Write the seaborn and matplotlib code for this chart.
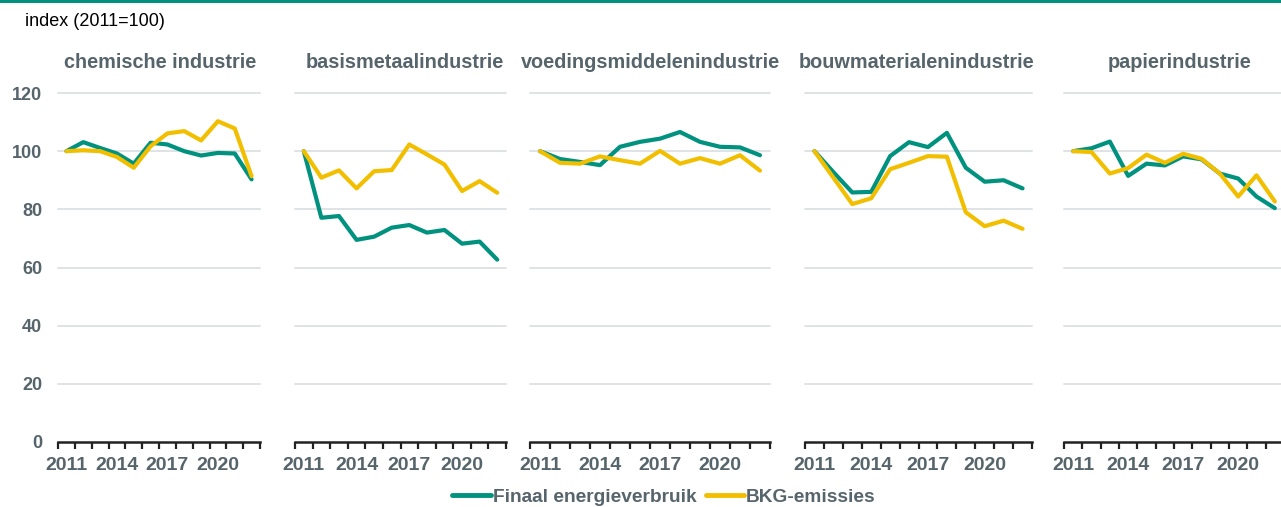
import matplotlib
matplotlib.use("Agg")
import matplotlib.pyplot as plt
from matplotlib.ticker import FixedLocator
import seaborn as sns
import pandas as pd

###############################################################################
# Data (index 2011=100)
###############################################################################

years = list(range(2011, 2023))
sectors = ["chemische industrie", "basismetaalindustrie", "voedingsmiddelenindustrie",
           "bouwmaterialenindustrie", "papierindustrie"]
series_names = ["Finaal energieverbruik", "BKG-emissies"]

chem_energy = [100, 103.1, 101.1, 99.2, 95.7, 102.9, 102.3, 100, 98.5, 99.4, 99.2, 90.3]
chem_ghg = [100, 100.3, 100, 98, 94.3, 101.7, 106.1, 106.9, 103.7, 110.3, 107.8, 91.4]

metal_energy = [100, 77.1, 77.7, 69.5, 70.6, 73.7, 74.6, 72, 72.9, 68.2, 68.9, 62.7]
metal_ghg = [100, 90.9, 93.4, 87.2, 93.1, 93.5, 102.3, 98.9, 95.4, 86.3, 89.7, 85.7]

food_energy = [100, 97.3, 96.3, 95.2, 101.5, 103.2, 104.3, 106.6, 103.2, 101.5, 101.3, 98.6]
food_ghg = [100, 96, 95.7, 98.2, 96.9, 95.7, 100.1, 95.7, 97.6, 95.7, 98.6, 93.3]

build_energy = [100, 92.8, 85.8, 86, 98.3, 103.1, 101.4, 106.3, 94.3, 89.5, 90, 87.2]
build_ghg = [100, 90.9, 81.8, 83.8, 93.8, 96, 98.3, 98.1, 79, 74.2, 76.1, 73.3]

paper_energy = [100, 101, 103.3, 91.5, 95.7, 95.1, 98.2, 97.2, 92.3, 90.6, 84.4, 80.4]
paper_ghg = [100, 99.7, 92.3, 94.2, 98.8, 96, 99.1, 97.4, 92.3, 84.4, 91.7, 82.7]

energy_values = [chem_energy, metal_energy, food_energy, build_energy, paper_energy]
ghg_values = [chem_ghg, metal_ghg, food_ghg, build_ghg, paper_ghg]

y_ticks = [0, 20, 40, 60, 80, 100, 120]
year_labels = [2011, 2014, 2017, 2020]

###############################################################################
# Plot
###############################################################################

teal = "#00927f"
yellow = "#f2bf00"
grey_text = "#56646c"
grid_col = "#dfe3e6"

sns.set_theme(style="white")
plt.rcParams["font.family"] = ["Liberation Sans", "DejaVu Sans"]

W, H = 1281, 507
fig = plt.figure(figsize=(W / 100, H / 100), dpi=100)

# panel extents in pixels (left, right) and title centres
panel_px = [(58, 260), (295, 506), (530, 770), (805, 1032), (1064, 1284)]
title_cx = [160, 405, 650, 917, 1180]
top_px, bottom_px = 93, 442

# top teal band
fig.add_artist(plt.Rectangle((0, 1 - 3 / H), 1, 3 / H, transform=fig.transFigure,
                             color=teal, lw=0))
fig.text(25 / W, 1 - 21 / H, "index (2011=100)", fontsize=13, color="black",
         va="center", ha="left")

for i, sector in enumerate(sectors):
    l, r = panel_px[i]
    ax = fig.add_axes([l / W, (H - bottom_px) / H, (r - l) / W, (bottom_px - top_px) / H])
    df = pd.DataFrame({
        "pos": list(range(len(years))) * 2,
        "waarde": energy_values[i] + ghg_values[i],
        "reeks": [series_names[0]] * len(years) + [series_names[1]] * len(years),
    })
    sns.lineplot(data=df, x="pos", y="waarde", hue="reeks", hue_order=series_names,
                 palette=[teal, yellow], linewidth=3, ax=ax, legend=False,
                 clip_on=False)
    ax.set_xlim(-0.5, len(years) - 0.5)
    ax.set_ylim(0, 120)
    ax.set_xlabel("")
    ax.set_ylabel("")

    ax.yaxis.set_major_locator(FixedLocator(y_ticks))
    for y in y_ticks[1:]:
        ax.axhline(y, color=grid_col, lw=1.4, zorder=0, clip_on=False)
    ax.tick_params(axis="y", length=0, pad=11.5, labelsize=13, labelcolor=grey_text)
    if i == 0:
        for lab in ax.get_yticklabels():
            lab.set_fontweight("bold")
    else:
        ax.set_yticklabels([])

    ax.xaxis.set_major_locator(FixedLocator([years.index(y) for y in year_labels]))
    ax.set_xticklabels([str(y) for y in year_labels], fontsize=14, fontweight="bold",
                       color=grey_text)
    ax.xaxis.set_minor_locator(FixedLocator([p - 0.5 for p in range(len(years) + 1)]))
    ax.tick_params(axis="x", which="major", length=0, pad=11)
    ax.tick_params(axis="x", which="minor", length=5, width=1.6, color="#222222",
                   direction="out", bottom=True)

    for side in ["top", "right", "left"]:
        ax.spines[side].set_visible(False)
    ax.spines["bottom"].set_color("#222222")
    ax.spines["bottom"].set_linewidth(1.8)

    fig.text(title_cx[i] / W, 1 - 62 / H, sector, fontsize=14.3, fontweight="bold",
             color=grey_text, ha="center", va="center")

# legend
handles = [plt.Line2D([], [], color=teal, lw=3.5), plt.Line2D([], [], color=yellow, lw=3.5)]
fig.legend(handles, series_names, loc="center", bbox_to_anchor=(664 / W, 1 - 497 / H),
           ncol=2, frameon=False, handlelength=2.0, handletextpad=0.1, columnspacing=0.5,
           prop={"weight": "bold", "size": 13.8})
for t in fig.legends[0].get_texts():
    t.set_color(grey_text)

fig.savefig("out.png", dpi=100)
